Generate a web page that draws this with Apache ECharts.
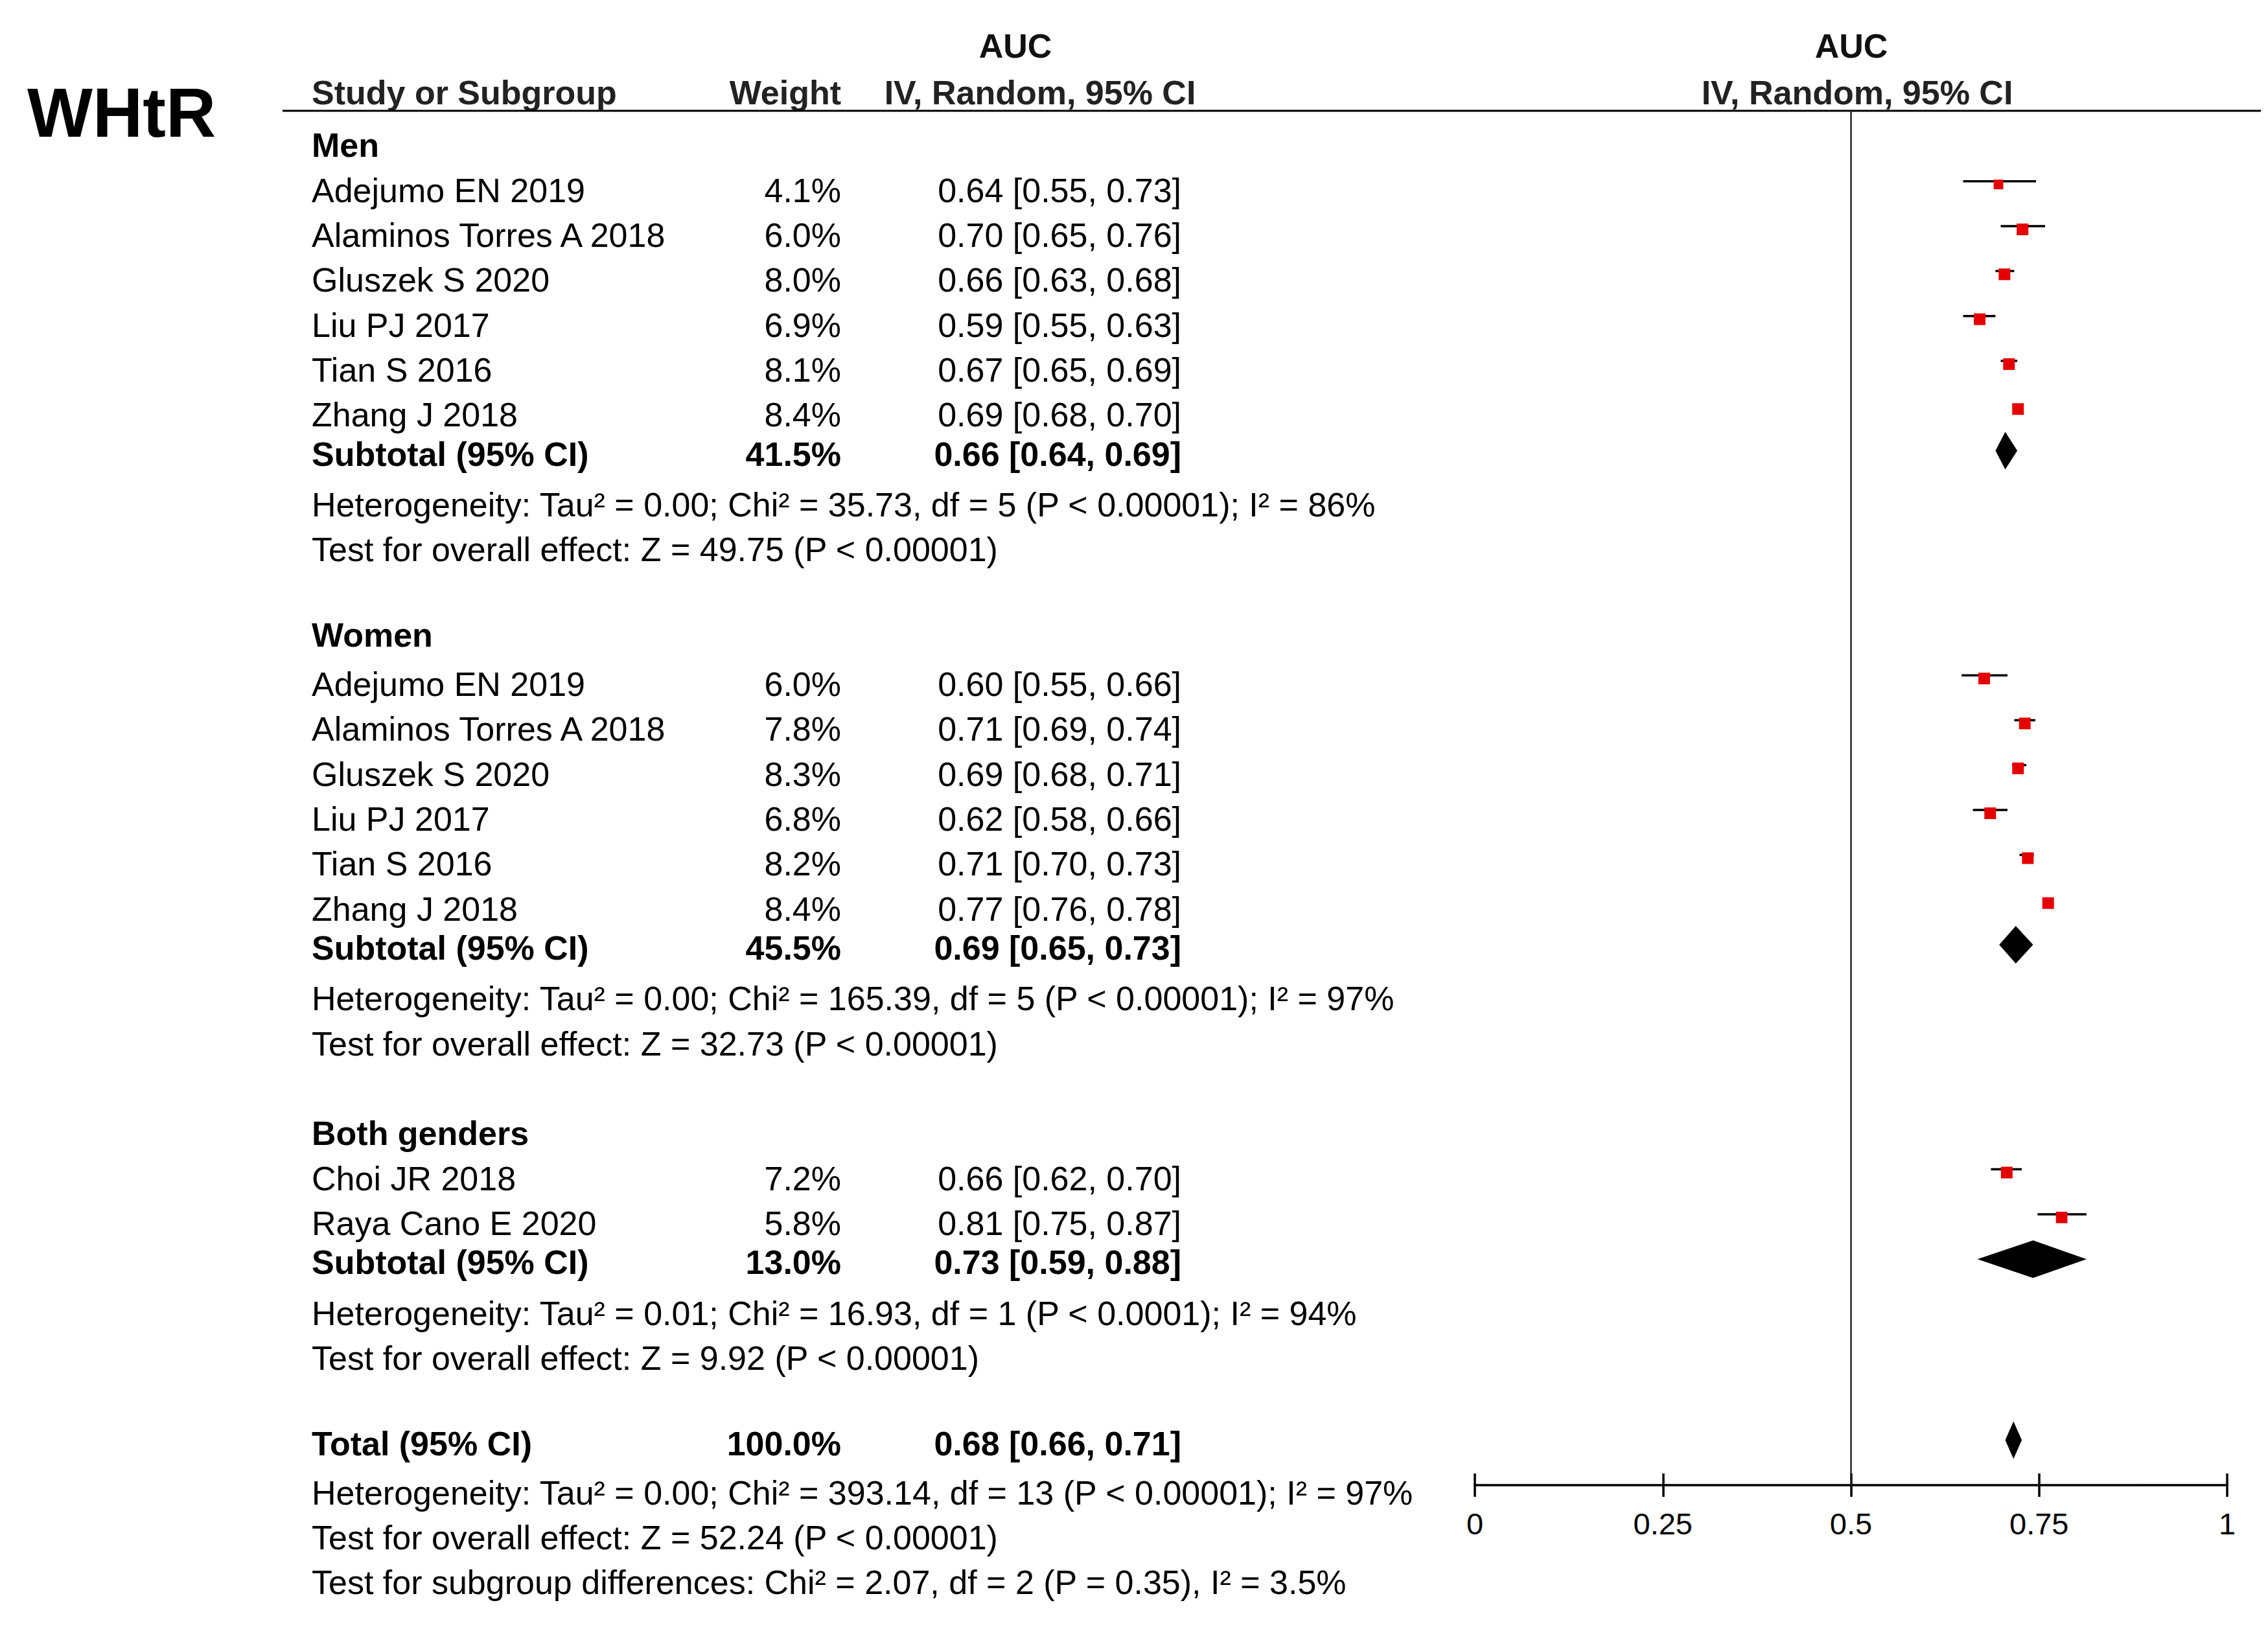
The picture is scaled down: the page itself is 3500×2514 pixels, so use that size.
<!DOCTYPE html>
<html>
<head>
<meta charset="utf-8">
<script src="https://cdn.jsdelivr.net/npm/echarts@6/dist/echarts.min.js"></script>
<style>
html,body{margin:0;padding:0;background:#fff;}
#chart{width:3500px;height:2514px;}
</style>
</head>
<body>
<div id="chart"></div>
<script>
// ---------------- DATA ----------------
const groupNames = ['Men', 'Women', 'Both genders'];

const menStudies = ['Adejumo EN 2019', 'Alaminos Torres A 2018', 'Gluszek S 2020', 'Liu PJ 2017', 'Tian S 2016', 'Zhang J 2018'];
const menWeights = ['4.1%', '6.0%', '8.0%', '6.9%', '8.1%', '8.4%'];
const menWeightVals = [4.1, 6.0, 8.0, 6.9, 8.1, 8.4];
const menCI = ['0.64 [0.55, 0.73]', '0.70 [0.65, 0.76]', '0.66 [0.63, 0.68]', '0.59 [0.55, 0.63]', '0.67 [0.65, 0.69]', '0.69 [0.68, 0.70]'];
// positions of the marks as drawn in the picture
const menEst = [0.696, 0.728, 0.704, 0.671, 0.710, 0.722];
const menLo  = [0.649, 0.699, 0.692, 0.649, 0.699, 0.716];
const menHi  = [0.746, 0.758, 0.717, 0.692, 0.721, 0.728];

const womenStudies = ['Adejumo EN 2019', 'Alaminos Torres A 2018', 'Gluszek S 2020', 'Liu PJ 2017', 'Tian S 2016', 'Zhang J 2018'];
const womenWeights = ['6.0%', '7.8%', '8.3%', '6.8%', '8.2%', '8.4%'];
const womenWeightVals = [6.0, 7.8, 8.3, 6.8, 8.2, 8.4];
const womenCI = ['0.60 [0.55, 0.66]', '0.71 [0.69, 0.74]', '0.69 [0.68, 0.71]', '0.62 [0.58, 0.66]', '0.71 [0.70, 0.73]', '0.77 [0.76, 0.78]'];
const womenEst = [0.677, 0.731, 0.722, 0.685, 0.735, 0.762];
const womenLo  = [0.647, 0.717, 0.714, 0.662, 0.724, 0.756];
const womenHi  = [0.708, 0.745, 0.733, 0.708, 0.743, 0.768];

const bothStudies = ['Choi JR 2018', 'Raya Cano E 2020'];
const bothWeights = ['7.2%', '5.8%'];
const bothWeightVals = [7.2, 5.8];
const bothCI = ['0.66 [0.62, 0.70]', '0.81 [0.75, 0.87]'];
const bothEst = [0.707, 0.780];
const bothLo  = [0.686, 0.748];
const bothHi  = [0.727, 0.813];

const subtotalWeights = ['41.5%', '45.5%', '13.0%'];
const subtotalCI = ['0.66 [0.64, 0.69]', '0.69 [0.65, 0.73]', '0.73 [0.59, 0.88]'];
const subtotalEst = [0.705, 0.719, 0.742];
const subtotalLo  = [0.692, 0.697, 0.668];
const subtotalHi  = [0.721, 0.742, 0.813];

const heterogeneity = [
  'Heterogeneity: Tau\u00b2 = 0.00; Chi\u00b2 = 35.73, df = 5 (P < 0.00001); I\u00b2 = 86%',
  'Heterogeneity: Tau\u00b2 = 0.00; Chi\u00b2 = 165.39, df = 5 (P < 0.00001); I\u00b2 = 97%',
  'Heterogeneity: Tau\u00b2 = 0.01; Chi\u00b2 = 16.93, df = 1 (P < 0.0001); I\u00b2 = 94%'
];
const overallEffect = [
  'Test for overall effect: Z = 49.75 (P < 0.00001)',
  'Test for overall effect: Z = 32.73 (P < 0.00001)',
  'Test for overall effect: Z = 9.92 (P < 0.00001)'
];

const totalLabel = 'Total (95% CI)';
const totalWeight = '100.0%';
const totalCI = '0.68 [0.66, 0.71]';
const totalEst = 0.716, totalLo = 0.705, totalHi = 0.727;
const totalNotes = [
  'Heterogeneity: Tau\u00b2 = 0.00; Chi\u00b2 = 393.14, df = 13 (P < 0.00001); I\u00b2 = 97%',
  'Test for overall effect: Z = 52.24 (P < 0.00001)',
  'Test for subgroup differences: Chi\u00b2 = 2.07, df = 2 (P = 0.35), I\u00b2 = 3.5%'
];

const xTicks = [0, 0.25, 0.5, 0.75, 1];

// ---------------- LAYOUT ----------------
const FONT = '"Liberation Sans", Arial, Helvetica, sans-serif';
const TXT = 52;
const groupHeaderSlot = [0, 10.9, 22];
const groupFirstSlot = [1, 12, 23];
const totalSlot = 28.9;
const colLabelX = 481, colWeightX = 1298, colCIX = 1823;

const groups = [
  {s: menStudies, w: menWeights, wv: menWeightVals, ci: menCI, e: menEst, lo: menLo, hi: menHi},
  {s: womenStudies, w: womenWeights, wv: womenWeightVals, ci: womenCI, e: womenEst, lo: womenLo, hi: womenHi},
  {s: bothStudies, w: bothWeights, wv: bothWeightVals, ci: bothCI, e: bothEst, lo: bothLo, hi: bothHi}
];

const textRows = [];
const markData = [];
groups.forEach((g, gi) => {
  textRows.push({slot: groupHeaderSlot[gi], label: groupNames[gi], bold: true});
  let last = 0;
  g.s.forEach((name, i) => {
    const slot = groupFirstSlot[gi] + i;
    last = slot;
    textRows.push({slot, label: name, weight: g.w[i], ci: g.ci[i], bold: false});
    const size = Math.min(18, 18 * Math.sqrt(g.wv[i] / 6.0));
    markData.push([g.e[i], slot, g.lo[i], g.hi[i], size, 0]);
  });
  const sub = last + 0.87;
  textRows.push({slot: sub, label: 'Subtotal (95% CI)', weight: subtotalWeights[gi], ci: subtotalCI[gi], bold: true});
  markData.push([subtotalEst[gi], sub, subtotalLo[gi], subtotalHi[gi], 0, 1]);
  textRows.push({slot: last + 2, label: heterogeneity[gi], bold: false});
  textRows.push({slot: last + 3, label: overallEffect[gi], bold: false});
});
textRows.push({slot: totalSlot, label: totalLabel, weight: totalWeight, ci: totalCI, bold: true});
markData.push([totalEst, totalSlot, totalLo, totalHi, 0, 1]);
totalNotes.forEach((t, i) => textRows.push({slot: 30 + i, label: t, bold: false}));

const textData = textRows.map((r, i) => [0.5, r.slot, i]);

function fontOf(bold, size) { return (bold ? 'bold ' : '') + size + 'px ' + FONT; }

function renderText(params, api) {
  const r = textRows[api.value(2)];
  const y = api.coord([0.5, api.value(1)])[1];
  const f = fontOf(r.bold, TXT);
  const children = [{type: 'text', style: {text: r.label, x: colLabelX, y, font: f, fill: '#000', align: 'left', verticalAlign: 'middle'}}];
  if (r.weight) children.push({type: 'text', style: {text: r.weight, x: colWeightX, y, font: f, fill: '#000', align: 'right', verticalAlign: 'middle'}});
  if (r.ci) children.push({type: 'text', style: {text: r.ci, x: colCIX, y, font: f, fill: '#000', align: 'right', verticalAlign: 'middle'}});
  return {type: 'group', children};
}

function renderMarks(params, api) {
  const est = api.value(0), slot = api.value(1), lo = api.value(2), hi = api.value(3), size = api.value(4), kind = api.value(5);
  const pE = api.coord([est, slot]), pL = api.coord([lo, slot]), pH = api.coord([hi, slot]);
  if (kind === 1) {
    const cy = pE[1] - 5, h = 29;
    return {type: 'polygon', shape: {points: [[pL[0], cy], [pE[0], cy - h], [pH[0], cy], [pE[0], cy + h]]}, style: {fill: '#000'}};
  }
  const ly = pE[1] - 14, sy = pE[1] - 9;
  return {type: 'group', children: [
    {type: 'line', shape: {x1: pL[0], y1: ly, x2: pH[0], y2: ly}, style: {stroke: '#000', lineWidth: 3.5}},
    {type: 'rect', shape: {x: pE[0] - size / 2, y: sy - size / 2, width: size, height: size}, style: {fill: '#e50000'}}
  ]};
}

const chart = echarts.init(document.getElementById('chart'), null, {renderer: 'svg', width: 3500, height: 2514});
chart.setOption({
  backgroundColor: '#fff',
  animation: false,
  grid: {left: 2276, right: 63, top: 171, bottom: 222, containLabel: false},
  xAxis: [
    {type: 'value', min: xTicks[0], max: xTicks[xTicks.length - 1], interval: 0.25, position: 'bottom',
     axisLine: {show: true, onZero: false, lineStyle: {color: '#000', width: 3.5}},
     axisTick: {show: true, length: 18, lineStyle: {color: '#000', width: 3.5}},
     axisLabel: {show: true, margin: 36, fontSize: 47, fontFamily: FONT, color: '#000',
       formatter: v => String(v)},
     splitLine: {show: false}},
    {type: 'value', min: 0, max: 1, interval: 0.25, position: 'bottom', gridIndex: 0,
     axisLine: {show: false, onZero: false},
     axisTick: {show: true, inside: true, length: 18, lineStyle: {color: '#000', width: 3.5}},
     axisLabel: {show: false}, splitLine: {show: false}}
  ],
  yAxis: {type: 'value', inverse: true, min: -0.77, max: 29.83, show: false, splitLine: {show: false}},
  graphic: [
    {type: 'text', x: 42, y: 174, style: {text: 'WHtR', font: fontOf(true, 107), fill: '#000', align: 'left', verticalAlign: 'middle'}},
    {type: 'text', x: 1567, y: 71, style: {text: 'AUC', font: fontOf(true, TXT), fill: '#111', align: 'center', verticalAlign: 'middle'}},
    {type: 'text', x: 2857, y: 71, style: {text: 'AUC', font: fontOf(true, TXT), fill: '#111', align: 'center', verticalAlign: 'middle'}},
    {type: 'text', x: 481, y: 143, style: {text: 'Study or Subgroup', font: fontOf(true, TXT), fill: '#222', align: 'left', verticalAlign: 'middle'}},
    {type: 'text', x: 1298, y: 143, style: {text: 'Weight', font: fontOf(true, TXT), fill: '#222', align: 'right', verticalAlign: 'middle'}},
    {type: 'text', x: 1605, y: 143, style: {text: 'IV, Random, 95% CI', font: fontOf(true, TXT), fill: '#222', align: 'center', verticalAlign: 'middle'}},
    {type: 'text', x: 2866, y: 143, style: {text: 'IV, Random, 95% CI', font: fontOf(true, TXT), fill: '#222', align: 'center', verticalAlign: 'middle'}},
    {type: 'line', shape: {x1: 436, y1: 171, x2: 3489, y2: 171}, style: {stroke: '#000', lineWidth: 3}}
  ],
  series: [
    {type: 'custom', name: 'table', xAxisIndex: 0, yAxisIndex: 0, clip: false, silent: true,
     renderItem: renderText, data: textData, encode: {x: 0, y: 1}},
    {type: 'custom', name: 'forest', xAxisIndex: 0, yAxisIndex: 0, clip: false, silent: true,
     renderItem: renderMarks, data: markData, encode: {x: 0, y: 1},
     markLine: {silent: true, symbol: 'none', label: {show: false},
       lineStyle: {color: '#222', width: 2.5, type: 'solid'},
       data: [{xAxis: 0.5}]}}
  ]
});
</script>
</body>
</html>
